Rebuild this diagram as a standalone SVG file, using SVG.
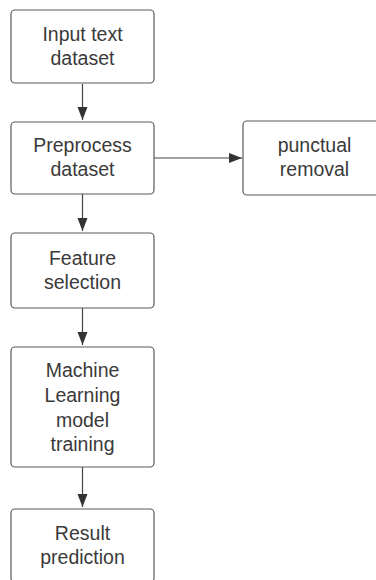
<svg xmlns="http://www.w3.org/2000/svg" width="376" height="580" viewBox="0 0 376 580">
<defs>
<style>
.box{fill:#fff;stroke:#5a5a5a;stroke-width:1.2}
.t{font-family:"Liberation Sans",Arial,sans-serif;font-size:19.5px;fill:#3a3a3a;text-anchor:middle}
.c{stroke:#444;stroke-width:1.2;fill:none}
</style>
<marker id="ah" markerUnits="userSpaceOnUse" markerWidth="14" markerHeight="12" refX="13" refY="5" orient="auto" viewBox="0 0 14 10">
<path d="M0,0 L13,5 L0,10 Z" fill="#333"/>
</marker>
</defs>
<rect width="376" height="580" fill="#fff"/>
<g id="connectors">
<line class="c" x1="82.5" y1="84" x2="82.5" y2="120" marker-end="url(#ah)"/>
<line class="c" x1="82.5" y1="194" x2="82.5" y2="231" marker-end="url(#ah)"/>
<line class="c" x1="82.5" y1="308" x2="82.5" y2="345" marker-end="url(#ah)"/>
<line class="c" x1="82.5" y1="467" x2="82.5" y2="507" marker-end="url(#ah)"/>
<line class="c" x1="154" y1="158" x2="242" y2="158" marker-end="url(#ah)"/>
</g>
<g id="input">
<rect class="box" x="11" y="10" width="143" height="73" rx="4"/>
<text class="t" x="82.5" y="41">Input text</text>
<text class="t" x="82.5" y="65">dataset</text>
</g>
<g id="preprocess">
<rect class="box" x="11" y="122" width="143" height="72" rx="4"/>
<text class="t" x="82.5" y="152">Preprocess</text>
<text class="t" x="82.5" y="176">dataset</text>
</g>
<g id="punctual">
<rect class="box" x="243" y="121" width="143" height="74" rx="4"/>
<text class="t" x="314.5" y="152">punctual</text>
<text class="t" x="314.5" y="176">removal</text>
</g>
<g id="feature">
<rect class="box" x="11" y="233" width="143" height="75" rx="4"/>
<text class="t" x="82.5" y="265">Feature</text>
<text class="t" x="82.5" y="289">selection</text>
</g>
<g id="ml">
<rect class="box" x="11" y="347" width="143" height="120" rx="4"/>
<text class="t" x="82.5" y="377">Machine</text>
<text class="t" x="82.5" y="402">Learning</text>
<text class="t" x="82.5" y="427">model</text>
<text class="t" x="82.5" y="451">training</text>
</g>
<g id="result">
<rect class="box" x="11" y="509" width="143" height="73" rx="4"/>
<text class="t" x="82.5" y="540">Result</text>
<text class="t" x="82.5" y="564">prediction</text>
</g>
</svg>
